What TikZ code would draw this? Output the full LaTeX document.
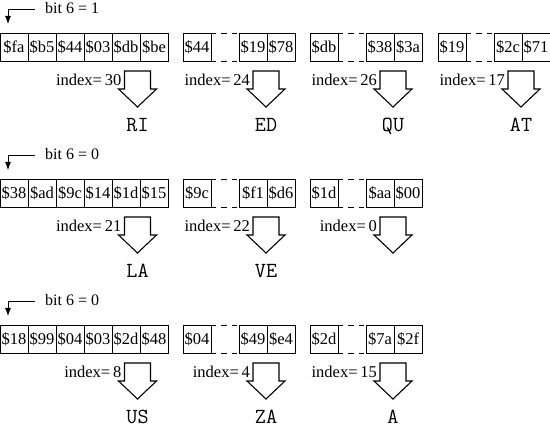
\documentclass[tikz,border=0pt]{standalone}
\usepackage{fontspec}
\setmainfont{Liberation Serif}
\usetikzlibrary{arrows.meta}
\tikzset{
 cell/.style={draw, line width=0.9pt, minimum width=28pt, minimum height=28pt,
   inner sep=0pt, outer sep=0pt, anchor=north west, font=\fontsize{16.5}{16.5}\selectfont},
 gapline/.style={line width=0.9pt, dash pattern=on 5.2pt off 5.2pt},
 blockarrow/.style={draw, line width=1.1pt, line join=miter},
 idx/.style={anchor=base east, inner sep=0pt, font=\fontsize{16.5}{16.5}\selectfont},
 outtxt/.style={anchor=base, inner sep=0pt, font=\ttfamily\fontsize{21.5}{21.5}\selectfont},
 bitlbl/.style={anchor=base west, inner sep=0pt, font=\fontsize{16}{16}\selectfont},
 bitarrow/.style={line width=0.9pt, -{Latex[length=8pt,width=6pt]}},
}
\newcommand{\sixgroup}[8]{%
 \node[cell] (#1a) at (0,#2) {\$#3};
 \node[cell] (#1b) at (#1a.north east) {\$#4};
 \node[cell] (#1c) at (#1b.north east) {\$#5};
 \node[cell] (#1d) at (#1c.north east) {\$#6};
 \node[cell] (#1e) at (#1d.north east) {\$#7};
 \node[cell] (#1f) at (#1e.north east) {\$#8};
}
\newcommand{\fourgroup}[6]{%
 \node[cell] (#1a) at (#2,#3) {\$#4};
 \node[cell] (#1c) at (#2+56,#3) {\$#5};
 \node[cell] (#1d) at (#1c.north east) {\$#6};
 \draw[gapline] (#1a.north east) -- (#1c.north west);
 \draw[gapline] (#1a.south east) -- (#1c.south west);
}
\newcommand{\outarrow}[5]{%
 \coordinate (#1) at (#2,#3);
 \draw[blockarrow] (#1) ++(-13,0) -- ++(26,0) -- ++(0,18) -- ++(6,0)
   -- ++(-19,18) -- ++(-19,-18) -- ++(6,0) -- cycle;
 \node[idx] (#1i) at (#2-16,#3+15) {index=\,#4};
 \if\relax\detokenize{#5}\relax\else
 \node[outtxt] (#1o) at (#2,#3+60.5) {#5};
 \fi
}
\newcommand{\bitmark}[3]{%
 \coordinate (#1s) at (35,#2+9);
 \coordinate (#1e) at (8,#2+24);
 \draw[bitarrow] (#1s) -| (#1e);
 \node[bitlbl] (#1l) at (45,#2+14) {#3};
}
\begin{document}
\begin{tikzpicture}[x=1pt,y=-1pt]
\useasboundingbox (0,0) rectangle (550,438);
% row 1
\bitmark{ba}{0}{bit 6 = 1}
\sixgroup{ra}{33}{fa}{b5}{44}{03}{db}{be}
\fourgroup{rb}{183}{33}{44}{19}{78}
\fourgroup{rc}{310}{33}{db}{38}{3a}
\fourgroup{rd}{438}{33}{19}{2c}{71}
\outarrow{aa}{137.5}{71}{30}{RI}
\outarrow{ab}{266}{71}{24}{ED}
\outarrow{ac}{393}{71}{26}{QU}
\outarrow{ad}{521}{71}{17}{AT}
% row 2
\bitmark{bb}{146}{bit 6 = 0}
\sixgroup{sa}{179}{38}{ad}{9c}{14}{1d}{15}
\fourgroup{sb}{183}{179}{9c}{f1}{d6}
\fourgroup{sc}{310}{179}{1d}{aa}{00}
\outarrow{ba}{137.5}{217}{21}{LA}
\outarrow{bb}{266}{217}{22}{VE}
\outarrow{bc}{393}{217}{0}{}
% row 3
\bitmark{bc}{292}{bit 6 = 0}
\sixgroup{ta}{325}{18}{99}{04}{03}{2d}{48}
\fourgroup{tb}{183}{325}{04}{49}{e4}
\fourgroup{tc}{310}{325}{2d}{7a}{2f}
\outarrow{ca}{137.5}{363}{8}{US}
\outarrow{cb}{266}{363}{4}{ZA}
\outarrow{cc}{393}{363}{15}{A}
\end{tikzpicture}
\end{document}
